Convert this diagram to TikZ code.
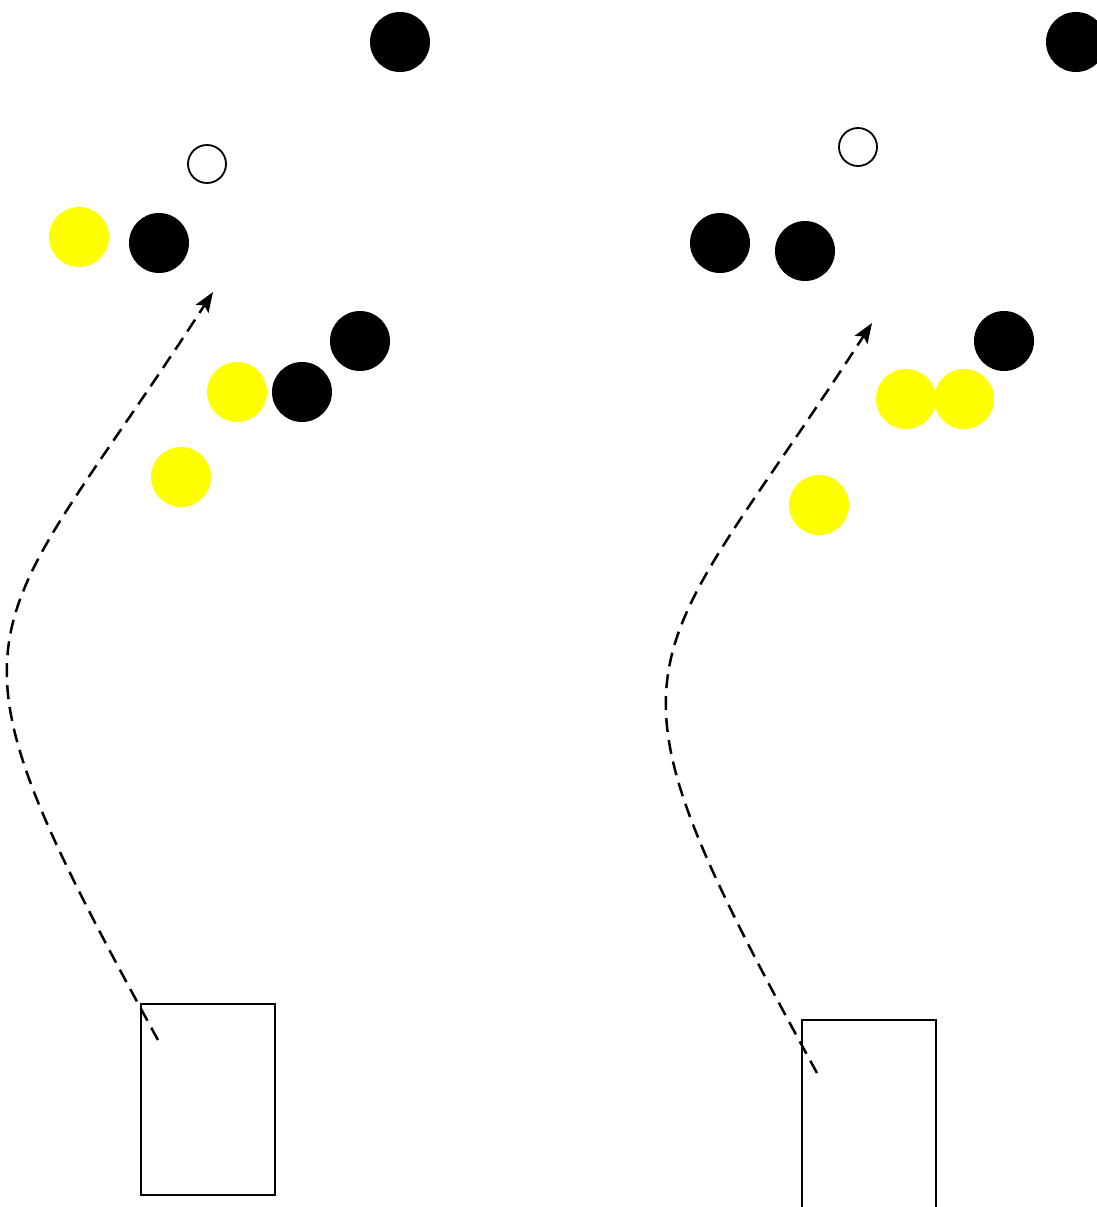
\documentclass[tikz,border=0pt]{standalone}
\usetikzlibrary{arrows.meta}
\definecolor{ballyellow}{RGB}{255,255,0}

\begin{document}
\begin{tikzpicture}[
  x=1pt, y=-1pt,
  blk/.style  ={circle, fill=black, minimum size=60pt, inner sep=0pt},
  ylw/.style  ={circle, fill=ballyellow, minimum size=60pt, inner sep=0pt},
  emp/.style  ={circle, draw=black, line width=1.8pt, fill=white,
                minimum size=38pt, inner sep=0pt},
  goal/.style ={draw=black, line width=1.8pt, minimum width=134pt,
                minimum height=191pt, inner sep=0pt, anchor=north west},
  route/.style={-{Stealth[length=20pt, width=15pt, inset=4pt]},
                line width=2.5pt, dash pattern=on 14pt off 8pt},
]
\useasboundingbox (0,0) rectangle (1096,1207);

% left panel
\node[blk] (a1) at (400,42)  {};
\node[emp] (a2) at (207,164) {};
\node[ylw] (a3) at (79,237)  {};
\node[blk] (a4) at (159,243) {};
\node[blk] (a5) at (360,341) {};
\node[ylw] (a6) at (237,392) {};
\node[blk] (a7) at (302,392) {};
\node[ylw] (a8) at (181,477) {};
\node[goal] (ra) at (140,1003) {};

\coordinate (sa) at (158,1040);
\coordinate (ta) at (213,292);
\draw[route] (sa) .. controls (-77,612) and (-20,652) .. (ta);

% right panel
\node[blk] (b1) at (1076,42)  {};
\node[emp] (b2) at (858,147)  {};
\node[blk] (b3) at (720,243)  {};
\node[blk] (b4) at (805,251)  {};
\node[blk] (b5) at (1004,341) {};
\node[ylw] (b6) at (906,399)  {};
\node[ylw] (b7) at (964,399)  {};
\node[ylw] (b8) at (819,505)  {};
\node[goal] (rb) at (801,1019) {};

\coordinate (sb) at (817,1073);
\coordinate (tb) at (872,323);
\draw[route] (sb) .. controls (582,645) and (639,683) .. (tb);

\end{tikzpicture}
\end{document}
